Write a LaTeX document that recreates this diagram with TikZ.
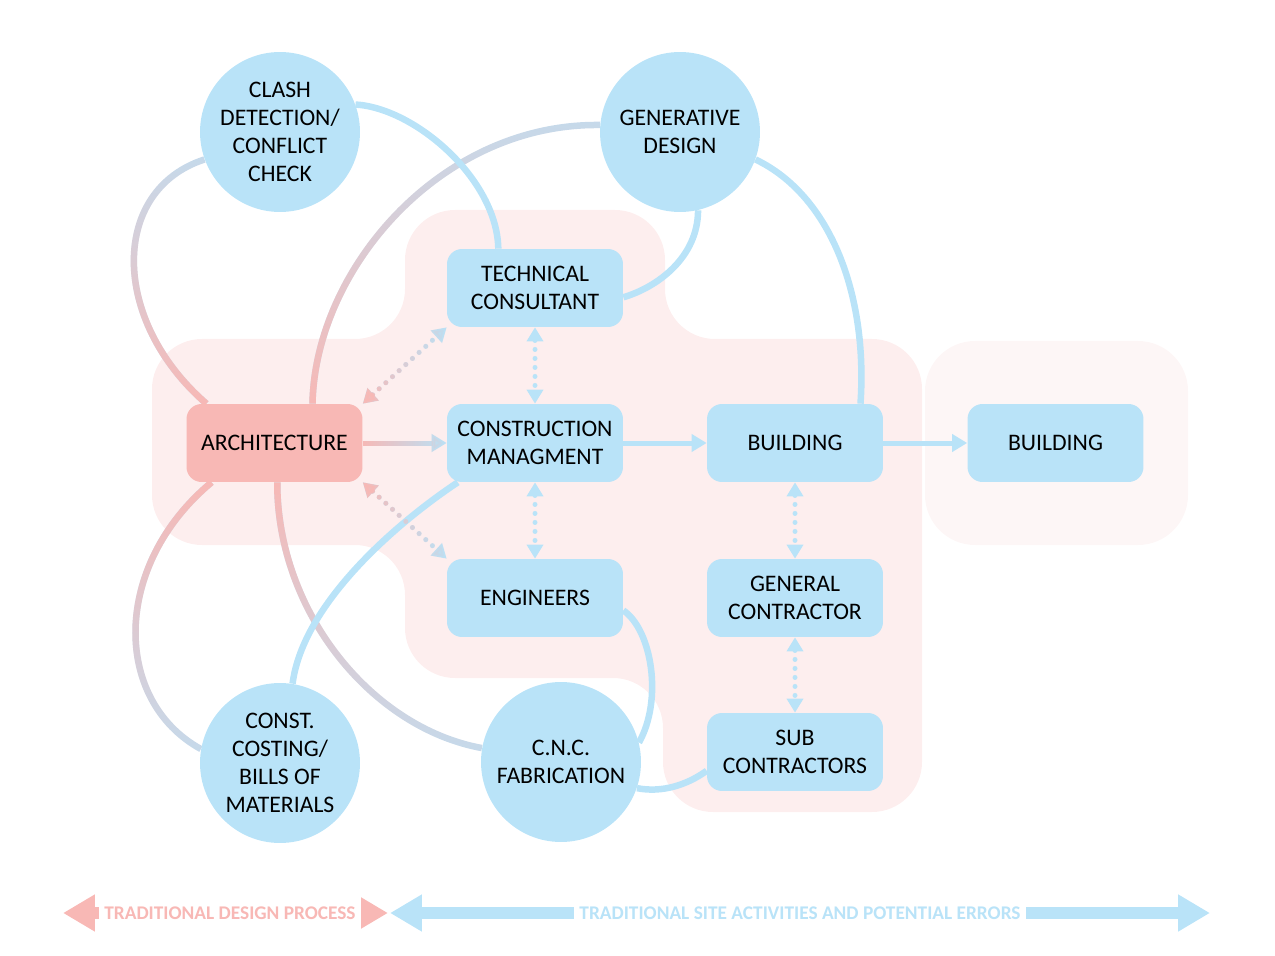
\documentclass[tikz,border=0pt]{standalone}
\usepackage{fontspec}
\setmainfont{Carlito}
\usetikzlibrary{arrows.meta,fadings,backgrounds}
\definecolor{skyblue}{RGB}{185,227,248}
\definecolor{salmon}{RGB}{248,184,181}
\definecolor{blush}{RGB}{253,238,238}
\definecolor{paleblush}{RGB}{253,246,246}
\colorlet{dusk}{skyblue!80!salmon}
\tikzfading[name=fadeup, bottom color=transparent!0, middle color=transparent!0, top color=transparent!100]
\tikzfading[name=fadedown, top color=transparent!0, middle color=transparent!0, bottom color=transparent!100]
\tikzfading[name=faderight, left color=transparent!0, middle color=transparent!30, right color=transparent!100]
\tikzset{
	box/.style={rectangle, rounded corners=0.3cm, fill=skyblue, minimum width=3.52cm, minimum height=1.56cm, align=center, font=\fontsize{13.5}{16}\selectfont},
	bubble/.style={circle, fill=skyblue, minimum size=3.2cm, inner sep=-6pt, align=center, font=\fontsize{13.5}{16}\selectfont},
	link/.style={line width=0.13cm, dusk},
	pinkfade/.style={postaction={draw=salmon, path fading=#1}},
	flow/.style={line width=0.1cm, skyblue, -{Triangle[length=0.3cm,width=0.34cm]}},
	dots/.style={line width=0.1cm, skyblue, line cap=round, dash pattern=on 0pt off 0.18cm, {Triangle[length=0.28cm,width=0.32cm]}-{Triangle[length=0.28cm,width=0.32cm]}},
	band/.style={line width=0.25cm, {Triangle[length=0.64cm,width=0.7cm]}-{Triangle[length=0.64cm,width=0.7cm]}},
	bandtext/.style={fill=white, inner xsep=3pt, inner ysep=8pt, font=\bfseries\fontsize{11}{13}\selectfont}
}
\begin{document}
\begin{tikzpicture}[x=0.02cm, y=-0.02cm]
	\useasboundingbox (0,0) rectangle (1275,956);
	\node[box, fill=salmon] at (274.5,443) (arch) {ARCHITECTURE};
	\node[box] at (535,288) (tech) {TECHNICAL\\CONSULTANT};
	\node[box] at (535,443) (cm) {CONSTRUCTION\\MANAGMENT};
	\node[box] at (535,598) (eng) {ENGINEERS};
	\node[box] at (795,443) (bld) {BUILDING};
	\node[box] at (1055.5,443) (final) {BUILDING};
	\node[box] at (795,598) (gc) {GENERAL\\CONTRACTOR};
	\node[box] at (795,752) (sub) {SUB\\CONTRACTORS};
	\node[bubble] at (280,132) (clash) {CLASH\\DETECTION/\\CONFLICT\\CHECK};
	\node[bubble] at (680,132) (gen) {GENERATIVE\\DESIGN};
	\node[bubble] at (280,763) (cost) {CONST.\\COSTING/\\BILLS OF\\MATERIALS};
	\node[bubble] at (561,762) (cnc) {C.N.C.\\FABRICATION};
	\node[bandtext, text=salmon] at (230,913) (design) {TRADITIONAL DESIGN PROCESS};
	\node[bandtext, text=skyblue] at (800,913) (site) {TRADITIONAL SITE ACTIVITIES AND POTENTIAL ERRORS};
	\coordinate (dl) at (63,913);
	\coordinate (dr) at (388,913);
	\coordinate (sl) at (390,913);
	\coordinate (sr) at (1210,913);
	\begin{scope}[on background layer]
		\fill[blush, rounded corners=1cm] (152,339) -- (405,339) -- (405,210) -- (665,210) -- (665,339) -- (922,339) -- (922,812) -- (663,812) -- (663,678) -- (405,678) -- (405,545) -- (152,545) -- cycle;
		\fill[paleblush, rounded corners=1cm] (925,341) rectangle (1188,545);
		\draw[link, pinkfade=fadeup] (arch.150) .. controls (110,320) and (110,190) .. (clash.200);
		\draw[link, pinkfade=fadeup] (arch.46) .. controls (315,270) and (440,123) .. (gen.175);
		\draw[link, pinkfade=fadedown] (arch.212) .. controls (112,565) and (112,700) .. (cost.170);
		\draw[link, pinkfade=fadedown] (arch.-86) .. controls (277,612) and (372,728) .. (cnc.170);
		\draw[link, skyblue] (clash.20) .. controls (415,108) and (497,179) .. (tech.133);
		\draw[link, skyblue] (gen.-77) .. controls (698,257) and (658,287) .. (tech.-6);
		\draw[link, skyblue] (gen.-20) .. controls (830,195) and (868,294) .. (bld.31);
		\draw[link, skyblue] (cost.81) .. controls (303,603) and (398,522) .. (cm.-153);
		\draw[link, skyblue] (eng.-8) .. controls (652,630) and (663,700) .. (cnc.14);
		\draw[link, skyblue] (cnc.-19) .. controls (662,793) and (687,785) .. (sub.192);
		\draw[flow, pinkfade=faderight] (arch.east) ++(0,-8) ++(0,16) (arch.east) -- (cm.west);
		\draw[flow] (cm.east) -- (bld.west);
		\draw[flow] (bld.east) -- (final.west);
		\draw[dots, pinkfade=faderight] (arch.north east) -- (tech.south west);
		\draw[dots, pinkfade=faderight] (arch.south east) -- (eng.north west);
		\draw[dots] (tech.south) -- (cm.north);
		\draw[dots] (cm.south) -- (eng.north);
		\draw[dots] (bld.south) -- (gc.north);
		\draw[dots] (gc.south) -- (sub.north);
		\draw[band, salmon] (dl) -- (dr);
		\draw[band, skyblue] (sl) -- (sr);
	\end{scope}
\end{tikzpicture}
\end{document}
